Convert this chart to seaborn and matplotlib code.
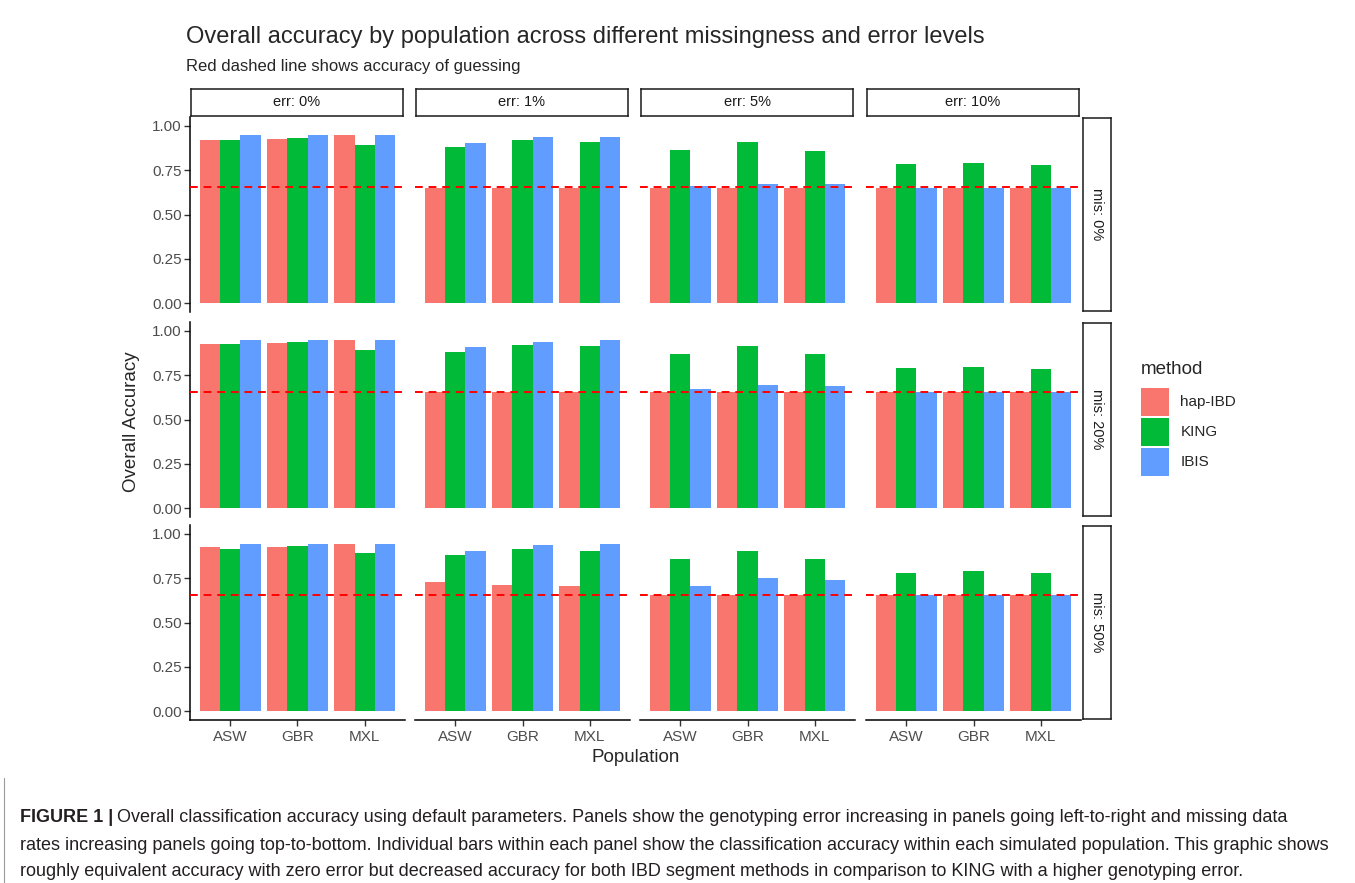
#! /usr/bin/python3
# -*- coding:utf-8 -*-
"""
Overall accuracy by population, faceted by missingness (rows) and error (columns).
"""
import pandas as pd
import seaborn as sns
import matplotlib.pyplot as plt
from matplotlib.patches import Patch
from matplotlib.lines import Line2D
from matplotlib import font_manager

populations = ['ASW', 'GBR', 'MXL']
methods = ['hap-IBD', 'KING', 'IBIS']
err_levels = ['err: 0%', 'err: 1%', 'err: 5%', 'err: 10%']
mis_levels = ['mis: 0%', 'mis: 20%', 'mis: 50%']
method_colors = ['#F8766D', '#00BA38', '#619CFF']
guess_accuracy = 0.656

# rows = missingness level, columns = error level, inner = ASW, GBR, MXL
hap_ibd = [
    [[0.923, 0.928, 0.947], [0.652, 0.652, 0.652], [0.652, 0.652, 0.652], [0.652, 0.652, 0.652]],
    [[0.928, 0.932, 0.951], [0.657, 0.657, 0.657], [0.657, 0.657, 0.657], [0.657, 0.657, 0.657]],
    [[0.925, 0.927, 0.945], [0.727, 0.711, 0.705], [0.656, 0.656, 0.656], [0.656, 0.656, 0.656]],
]
king = [
    [[0.921, 0.932, 0.891], [0.881, 0.919, 0.910], [0.866, 0.910, 0.861], [0.787, 0.793, 0.780]],
    [[0.924, 0.936, 0.894], [0.883, 0.920, 0.915], [0.869, 0.915, 0.867], [0.788, 0.795, 0.784]],
    [[0.915, 0.932, 0.891], [0.878, 0.914, 0.906], [0.861, 0.906, 0.861], [0.782, 0.793, 0.782]],
]
ibis = [
    [[0.947, 0.947, 0.947], [0.902, 0.936, 0.940], [0.663, 0.674, 0.670], [0.652, 0.652, 0.652]],
    [[0.951, 0.951, 0.949], [0.907, 0.937, 0.947], [0.672, 0.695, 0.689], [0.657, 0.657, 0.657]],
    [[0.945, 0.945, 0.942], [0.902, 0.936, 0.944], [0.707, 0.752, 0.739], [0.656, 0.656, 0.656]],
]

rows = []
for i, mis in enumerate(mis_levels):
    for j, err in enumerate(err_levels):
        for name, vals in zip(methods, [hap_ibd, king, ibis]):
            for k, pop in enumerate(populations):
                rows.append(dict(mis=mis, err=err, method=name,
                                 population=pop, accuracy=vals[i][j][k]))
df = pd.DataFrame(rows)

sns.set_style('white')
plt.rcParams['font.family'] = ['Liberation Sans', 'DejaVu Sans']

W, H = 1355, 883
fig = plt.figure(figsize=(W / 100, H / 100), dpi=100)


def px_axes(x, y, w, h):
    return fig.add_axes([x / W, 1 - (y + h) / H, w / W, h / H])


col_x = [190, 415, 640, 866]
row_y = [117, 322, 525]
panel_w, panel_h = 215, 195

for i, mis in enumerate(mis_levels):
    for j, err in enumerate(err_levels):
        ax = px_axes(col_x[j], row_y[i], panel_w, panel_h)
        sub = df[(df.mis == mis) & (df.err == err)]
        sns.barplot(data=sub, x='population', y='accuracy', hue='method',
                    order=populations, hue_order=methods, palette=method_colors,
                    saturation=1, width=0.9, errorbar=None, linewidth=0,
                    legend=False, ax=ax)
        ax.axhline(guess_accuracy, color='#FF0000', lw=1.4, ls=(0, (4, 3)), zorder=5)
        ax.set_xlim(-0.6, 2.6)
        ax.set_ylim(-0.05, 1.05)
        ax.set_xlabel('')
        ax.set_ylabel('')
        ax.set_yticks([0, 0.25, 0.5, 0.75, 1.0])
        ax.set_yticklabels(['0.00', '0.25', '0.50', '0.75', '1.00'])
        for s in ['top', 'right']:
            ax.spines[s].set_visible(False)
        ax.spines['left'].set_visible(j == 0)
        ax.spines['bottom'].set_visible(i == 2)
        for s in ['left', 'bottom']:
            ax.spines[s].set_color('black')
            ax.spines[s].set_linewidth(1.1)
        ax.tick_params(axis='y', left=(j == 0), labelleft=(j == 0), length=4,
                       width=1, color='#333333', labelsize=11, labelcolor='#4D4D4D', pad=2)
        ax.tick_params(axis='x', bottom=(i == 2), labelbottom=(i == 2), length=4,
                       width=1, color='#333333', labelsize=11, labelcolor='#4D4D4D', pad=3)

# column strips
for j, err in enumerate(err_levels):
    sa = px_axes(col_x[j] + 1, 89, panel_w - 3, 27)
    sa.set_xticks([])
    sa.set_yticks([])
    for s in sa.spines.values():
        s.set_color('#1A1A1A')
        s.set_linewidth(1.1)
    sa.text(0.5, 0.5, err, ha='center', va='center', fontsize=10.5, color='#1A1A1A')

# row strips
for i, mis in enumerate(mis_levels):
    sa = px_axes(1083, row_y[i] + 1, 28, panel_h - 2)
    sa.set_xticks([])
    sa.set_yticks([])
    for s in sa.spines.values():
        s.set_color('#1A1A1A')
        s.set_linewidth(1.1)
    sa.text(0.5, 0.5, mis, ha='center', va='center', rotation=270,
            fontsize=10.5, color='#1A1A1A')

fig.text(186 / W, 1 - 37 / H,
         'Overall accuracy by population across different missingness and error levels',
         fontsize=17, va='center', ha='left')
fig.text(186 / W, 1 - 67 / H, 'Red dashed line shows accuracy of guessing',
         fontsize=12, va='center', ha='left')
fig.text(132 / W, 1 - 422 / H, 'Overall Accuracy', rotation=90,
         fontsize=13.5, va='center', ha='center')
fig.text(636 / W, 1 - 757 / H, 'Population', fontsize=13.5, va='center', ha='center')

handles = [Patch(facecolor=c, edgecolor='none') for c in method_colors]
leg = fig.legend(handles, methods, title='method', loc='upper left',
                 bbox_to_anchor=(1141 / W, 1 - 361 / H), frameon=False,
                 fontsize=11, title_fontsize=13.5, handlelength=1.83,
                 handleheight=2.44, labelspacing=0.13, handletextpad=0.75,
                 borderpad=0, borderaxespad=0)
leg._legend_box.align = 'left'
leg._legend_box.sep = 7

# caption
names = {f.name for f in font_manager.fontManager.ttflist}
cap_family = 'Liberation Sans Narrow' if 'Liberation Sans Narrow' in names else 'Liberation Sans'
cap_size = 15.5 if cap_family == 'Liberation Sans Narrow' else 13
cap_lines = [
    'Overall classification accuracy using default parameters. Panels show the genotyping error increasing in panels going left-to-right and missing data',
    'rates increasing panels going top-to-bottom. Individual bars within each panel show the classification accuracy within each simulated population. This graphic shows',
    'roughly equivalent accuracy with zero error but decreased accuracy for both IBD segment methods in comparison to KING with a higher genotyping error.',
]
cap_y = [817, 845, 872]
bold = fig.text(20 / W, 1 - cap_y[0] / H, 'FIGURE 1 |', fontsize=cap_size, fontweight='bold',
                family=[cap_family, 'DejaVu Sans'], va='center', ha='left', color='#231F20')
fig.canvas.draw()
bb = bold.get_window_extent()
fig.text((bb.x1 + 4) / W, 1 - cap_y[0] / H, cap_lines[0], fontsize=cap_size,
         family=[cap_family, 'DejaVu Sans'], va='center', ha='left', color='#231F20')
for line, y in zip(cap_lines[1:], cap_y[1:]):
    fig.text(20 / W, 1 - y / H, line, fontsize=cap_size,
             family=[cap_family, 'DejaVu Sans'], va='center', ha='left', color='#231F20')
fig.add_artist(Line2D([4 / W, 4 / W], [0, 1 - 778 / H], color='#9A9A9A', lw=0.8))

fig.savefig('out.png', dpi=100)
